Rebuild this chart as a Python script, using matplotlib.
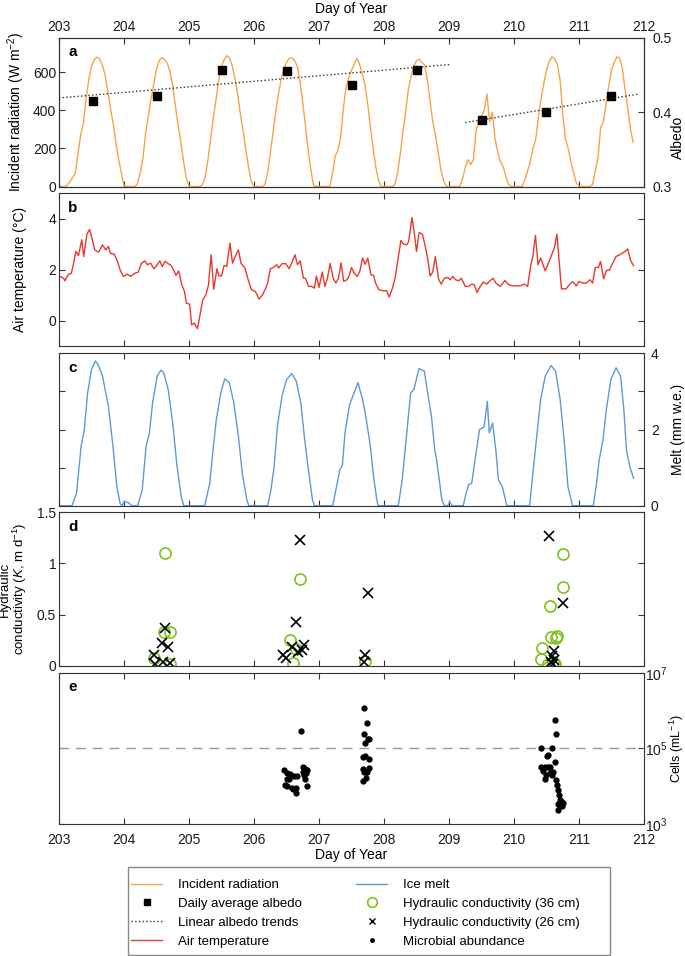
import numpy as np
import matplotlib.pyplot as plt
from matplotlib.lines import Line2D
from matplotlib.patches import Rectangle
from matplotlib.ticker import FormatStrFormatter, NullFormatter

plt.rcParams['font.family'] = ['Liberation Sans', 'DejaVu Sans']
plt.rcParams['font.size'] = 10
plt.rcParams['mathtext.fontset'] = 'custom'
plt.rcParams['mathtext.rm'] = 'Liberation Sans'
plt.rcParams['mathtext.it'] = 'Liberation Sans:italic'
plt.rcParams['mathtext.default'] = 'regular'

# colours
c_rad = '#F5A54A'
c_temp = '#E8392F'
c_melt = '#5B9BD5'
c_green = '#7DC21E'

day_ticks = list(range(203, 213))

# hourly incident radiation (W m-2), first value at day 203.0
radiation = [
    0, 0, 0, 5, 25, 45, 70, 170, 270, 330, 460, 560, 630, 665, 678, 668, 635, 585, 500, 410, 330, 230, 145, 70,
    5, 0, 0, 0, 0, 15, 73, 150, 280, 370, 460, 540, 616, 660, 676, 665, 645, 600, 525, 420, 320, 230, 130, 45,
    0, 0, 0, 0, 0, 10, 50, 140, 250, 360, 460, 560, 630, 665, 685, 672, 630, 565, 480, 375, 290, 190, 100, 25,
    0, 0, 0, 0, 10, 70, 170, 280, 390, 480, 560, 615, 650, 672, 676, 660, 630, 550, 440, 320, 190, 85, 5, 0,
    0, 0, 0, 0, 0, 70, 160, 190, 260, 410, 520, 570, 610, 640, 672, 640, 590, 530, 430, 310, 200, 100, 30, 0,
    0, 0, 0, 0, 10, 70, 170, 290, 390, 510, 580, 630, 660, 668, 650, 635, 560, 450, 340, 270, 180, 90, 30, 0,
    0, 0, 0, 0, 0, 40, 100, 140, 115, 140, 290, 350, 370, 400, 485, 340, 390, 250, 180, 130, 105, 50, 10, 0,
    0, 0, 0, 0, 35, 80, 130, 200, 245, 360, 460, 540, 610, 655, 680, 670, 640, 560, 380, 250, 200, 130, 70, 20,
    0, 0, 0, 0, 0, 10, 80, 150, 310, 340, 430, 530, 610, 650, 680, 672, 620, 510, 410, 300, 230,
]

albedo_day = [203.52, 204.51, 205.51, 206.51, 207.50, 208.50, 209.50, 210.49, 211.49]
albedo = [0.415, 0.422, 0.457, 0.455, 0.437, 0.457, 0.390, 0.400, 0.421]
trend1_day = [203.0, 209.02]
trend1 = [0.419, 0.464]
trend2_day = [209.25, 211.9]
trend2 = [0.386, 0.424]

temp_day = [
    203.015, 203.07, 203.09, 203.14, 203.19, 203.22, 203.26, 203.30, 203.35, 203.38, 203.43, 203.47,
    203.50, 203.55, 203.61, 203.67, 203.72, 203.76, 203.79, 203.85, 203.90, 203.94, 203.99, 204.05,
    204.10, 204.17, 204.22, 204.27, 204.32, 204.36, 204.41, 204.46, 204.50, 204.55, 204.59, 204.63,
    204.68, 204.73, 204.80, 204.84, 204.89, 204.93, 204.96, 205.01, 205.04, 205.08, 205.13, 205.17,
    205.21, 205.26, 205.30, 205.34, 205.38, 205.43, 205.46, 205.50, 205.54, 205.58, 205.63, 205.67,
    205.71, 205.76, 205.80, 205.86, 205.91, 205.96, 206.02, 206.08, 206.13, 206.17, 206.21, 206.25,
    206.30, 206.35, 206.38, 206.43, 206.49, 206.54, 206.59, 206.63, 206.67, 206.71, 206.76, 206.79,
    206.84, 206.89, 206.93, 206.96, 207.00, 207.05, 207.09, 207.13, 207.17, 207.22, 207.26, 207.30,
    207.34, 207.38, 207.43, 207.46, 207.50, 207.54, 207.59, 207.63, 207.67, 207.71, 207.75, 207.80,
    207.84, 207.87, 207.92, 207.99, 208.04, 208.08, 208.13, 208.17, 208.21, 208.26, 208.30, 208.35,
    208.38, 208.43, 208.46, 208.50, 208.54, 208.59, 208.63, 208.67, 208.71, 208.75, 208.79, 208.84,
    208.88, 208.93, 208.98, 209.02, 209.06, 209.10, 209.15, 209.19, 209.25, 209.30, 209.35, 209.39,
    209.43, 209.48, 209.53, 209.58, 209.63, 209.68, 209.72, 209.79, 209.86, 209.92, 209.99, 210.09,
    210.16, 210.21, 210.26, 210.29, 210.33, 210.37, 210.41, 210.48, 210.55, 210.62, 210.66, 210.73,
    210.80, 210.86, 210.90, 210.96, 211.00, 211.06, 211.11, 211.17, 211.21, 211.25, 211.30, 211.33,
    211.38, 211.42, 211.47, 211.52, 211.57, 211.64, 211.71, 211.75, 211.79, 211.84,
]
temp_c = [
    1.74, 1.67, 1.57, 1.80, 1.87, 2.20, 2.72, 2.56, 3.18, 2.52, 3.40, 3.58,
    3.31, 2.78, 2.69, 2.98, 2.78, 2.92, 2.65, 2.61, 2.33, 2.00, 1.74, 1.83,
    1.74, 1.87, 1.91, 2.26, 2.35, 2.20, 2.26, 2.04, 2.16, 2.35, 2.13, 2.33,
    2.24, 2.16, 1.78, 1.96, 1.41, 1.15, 0.69, 0.65, -0.16, -0.09, -0.31, 0.24,
    0.82, 1.02, 1.41, 2.59, 1.24, 2.04, 1.76, 1.76, 2.17, 2.13, 3.05, 2.26,
    2.52, 2.78, 2.26, 2.07, 1.61, 1.22, 1.15, 0.85, 1.02, 1.22, 1.48, 2.04,
    2.09, 2.20, 2.07, 2.24, 2.24, 2.04, 2.33, 2.59, 2.20, 2.35, 1.67, 1.67,
    1.35, 1.35, 1.28, 1.76, 1.31, 1.91, 1.35, 1.67, 2.25, 1.65, 1.48, 1.67,
    2.27, 1.54, 1.61, 1.74, 2.09, 1.87, 1.74, 1.96, 2.46, 2.22, 2.46, 1.80,
    1.78, 1.48, 1.22, 1.18, 1.18, 0.93, 1.28, 1.67, 2.33, 3.15, 3.01, 2.98,
    3.11, 4.05, 3.57, 2.72, 3.46, 3.40, 2.98, 2.46, 1.76, 1.91, 2.52, 1.63,
    1.44, 1.67, 1.70, 1.61, 1.74, 1.61, 1.57, 1.67, 1.35, 1.35, 1.44, 1.41,
    1.11, 1.35, 1.52, 1.44, 1.57, 1.67, 1.48, 1.35, 1.58, 1.41, 1.37, 1.37,
    1.44, 1.35, 2.20, 2.52, 3.35, 2.20, 2.46, 1.96, 2.39, 2.85, 3.40, 1.25,
    1.25, 1.44, 1.54, 1.37, 1.54, 1.48, 1.48, 1.61, 1.48, 2.09, 2.09, 2.33,
    1.65, 1.96, 2.00, 2.26, 2.52, 2.61, 2.72, 2.82, 2.39, 2.16,
]

melt_day = [
    203.0, 203.20, 203.27, 203.34, 203.39, 203.44, 203.50, 203.56, 203.60, 203.67, 203.76, 203.83,
    203.89, 203.94, 203.97, 204.0, 204.07, 204.12, 204.21,
    204.28, 204.34, 204.39, 204.44, 204.51, 204.57, 204.61, 204.68, 204.75, 204.81, 204.88, 204.92, 205.24,
    205.32, 205.37, 205.42, 205.49, 205.55, 205.62, 205.69, 205.76, 205.82, 205.89, 205.92, 206.21,
    206.26, 206.31, 206.36, 206.43, 206.50, 206.58, 206.65, 206.72, 206.78, 206.83, 206.90, 206.93, 207.21,
    207.27, 207.32, 207.36, 207.40, 207.47, 207.52, 207.60, 207.67, 207.72, 207.79, 207.84, 207.89, 207.91, 208.22,
    208.28, 208.34, 208.41, 208.46, 208.51, 208.54, 208.62, 208.68, 208.73, 208.78, 208.81, 208.85, 208.89,
    208.93, 208.98, 209.01, 209.05, 209.22,
    209.25, 209.30, 209.35, 209.40, 209.47, 209.54, 209.59, 209.62, 209.67, 209.72, 209.76, 209.82, 209.89, 210.24,
    210.29, 210.35, 210.41, 210.48, 210.57, 210.64, 210.71, 210.78, 210.83, 210.90, 211.22,
    211.27, 211.31, 211.37, 211.42, 211.49, 211.57, 211.64, 211.69, 211.73, 211.78, 211.84,
]
melt = [
    0, 0, 0.33, 1.56, 2.0, 2.96, 3.58, 3.8, 3.71, 3.4, 2.61, 1.56,
    0.5, 0.06, 0, 0.1, 0.08, 0, 0,
    0.41, 1.56, 1.9, 2.7, 3.4, 3.56, 3.49, 3.05, 2.17, 1.12, 0.24, 0, 0,
    0.59, 1.47, 2.26, 2.96, 3.33, 3.23, 2.7, 1.82, 0.85, 0.15, 0, 0,
    0.41, 1.03, 2.08, 2.87, 3.31, 3.47, 3.27, 2.7, 1.73, 1.03, 0.15, 0, 0,
    0.5, 0.94, 1.07, 1.91, 2.65, 2.87, 3.23, 2.79, 2.35, 1.56, 0.76, 0.15, 0, 0,
    0.68, 1.73, 2.96, 3.05, 3.4, 3.6, 3.53, 2.87, 2.35, 1.47, 1.2, 0.68, 0.15,
    0, 0, 0.1, 0, 0,
    0.24, 0.55, 0.59, 1.2, 2.0, 2.07, 2.74, 1.91, 2.17, 1.47, 0.68, 0.5, 0, 0,
    0.85, 1.82, 2.79, 3.4, 3.68, 3.53, 2.79, 1.56, 0.5, 0, 0,
    0.59, 1.2, 1.73, 2.52, 3.31, 3.62, 3.4, 2.52, 1.47, 1.03, 0.72,
]

# hydraulic conductivity (m d-1)
k36_day = [204.63, 204.62, 204.70, 204.46, 204.71,
           206.71, 206.55, 206.65, 206.60,
           207.70,
           210.76, 210.75, 210.56, 210.57, 210.64, 210.66, 210.43, 210.41, 210.53, 210.63, 210.60]
k36 = [1.10, 0.33, 0.33, 0.08, 0.02,
       0.85, 0.25, 0.16, 0.03,
       0.05,
       1.09, 0.77, 0.58, 0.28, 0.27, 0.29, 0.17, 0.07, 0.02, 0.02, 0.04]
k26_day = [204.63, 204.58, 204.68, 204.46, 204.48, 204.60, 204.70,
           206.71, 206.64, 206.45, 206.49, 206.58, 206.68, 206.77, 206.74,
           207.76, 207.70, 207.69,
           210.54, 210.76, 210.62, 210.58, 210.61, 210.57, 210.60]
k26 = [0.37, 0.22, 0.18, 0.10, 0.02, 0.04, 0.03,
       1.23, 0.43, 0.10, 0.08, 0.18, 0.13, 0.20, 0.15,
       0.71, 0.10, 0.04,
       1.27, 0.61, 0.14, 0.09, 0.06, 0.04, 0.02]

# microbial abundance (cells mL-1)
cells_day = [206.72, 206.46, 206.51, 206.56, 206.61, 206.66, 206.50, 206.54, 206.47, 206.51, 206.58,
             206.60, 206.64, 206.64, 206.76, 206.78, 206.81, 206.76, 206.80, 206.77, 206.78, 206.82,
             207.69, 207.74, 207.69, 207.70, 207.75, 207.77, 207.70, 207.68, 207.77, 207.67, 207.69,
             207.72, 207.74, 207.77, 207.72, 207.68,
             210.41, 210.59, 210.63, 210.64, 210.51, 210.53, 210.63, 210.42, 210.47, 210.52, 210.56,
             210.45, 210.56, 210.60, 210.49, 210.59, 210.48, 210.64, 210.66, 210.68, 210.69, 210.70,
             210.68, 210.72, 210.75, 210.71, 210.74, 210.68]
cells = [2.95e5, 2.7e4, 2.3e4, 2.1e4, 1.9e4, 1.9e4, 1.6e4, 1.6e4, 1.1e4, 1.05e4, 9.3e3,
         8.5e3, 8.9e3, 6.6e3, 3.2e4, 2.8e4, 2.7e4, 2.45e4, 2.2e4, 2.0e4, 1.55e4, 1.05e4,
         1.15e6, 4.6e5, 2.4e5, 1.4e5, 1.75e5, 1.75e5, 6.3e4, 5.9e4, 5.2e4, 2.8e4, 2.45e4,
         2.35e4, 2.35e4, 3.0e4, 1.7e4, 1.4e4,
         1.0e5, 1.0e5, 5.6e5, 2.4e5, 6.5e4, 6.8e4, 4.5e4, 3.3e4, 3.3e4, 3.2e4, 3.3e4,
         2.6e4, 2.3e4, 2.45e4, 2.0e4, 2.0e4, 1.6e4, 1.5e4, 1.1e4, 7.8e3, 5.9e3, 4.4e3,
         3.5e3, 4.0e3, 3.7e3, 3.0e3, 2.95e3, 2.4e3]
cell_threshold = 1e5

rad_day = 203 + np.arange(len(radiation)) / 24.0

fig = plt.figure(figsize=(6.85, 9.56), dpi=100)
W, H = 685.0, 956.0
left, width = 59 / W, 585 / W


def panel(top_px, bottom_px):
    return fig.add_axes([left, 1 - bottom_px / H, width, (bottom_px - top_px) / H])


def style(ax):
    for s in ax.spines.values():
        s.set_color('#333333')
        s.set_linewidth(0.8)
    ax.set_xlim(203, 212)
    ax.set_xticks(day_ticks)
    ax.tick_params(direction='in', length=4, width=0.8, colors='#333333',
                   labelcolor='#1a1a1a', top=True, bottom=True)


ax_a = panel(37.7, 186.5)
ax_b = panel(193.3, 346.3)
ax_c = panel(353.3, 505.7)
ax_d = panel(512.3, 665.7)
ax_e = panel(672.7, 824.3)

lab_left = -0.055
lab_right = 1.046

# a: radiation + albedo
style(ax_a)
ax_a.plot(rad_day, radiation, color=c_rad, lw=1)
ax_a.set_ylim(0, 780)
ax_a.set_yticks([0, 200, 400, 600])
ax_a.tick_params(axis='x', labeltop=True, labelbottom=False, pad=3)
ax_a.tick_params(axis='y', left=True, right=False, pad=2)
ax_a.xaxis.set_label_position('top')
ax_a.set_xlabel('Day of Year', labelpad=5)
ax_a.set_ylabel('Incident radiation (W m$^{-2}$)')
ax_a.yaxis.set_label_coords(lab_left, 0.5)
ax_a2 = ax_a.twinx()
style(ax_a2)
ax_a2.tick_params(axis='x', labeltop=False, labelbottom=False)
ax_a2.plot(albedo_day, albedo, 's', color='black', ms=5.5)
ax_a2.plot(trend1_day, trend1, ':', color='#333333', lw=1)
ax_a2.plot(trend2_day, trend2, ':', color='#333333', lw=1)
ax_a2.set_ylim(0.3, 0.5)
ax_a2.set_yticks([0.3, 0.4, 0.5])
ax_a2.tick_params(axis='y', left=False, right=True, pad=6)
ax_a2.set_ylabel('Albedo')
ax_a2.yaxis.set_label_coords(lab_right, 0.33)

# b: air temperature
style(ax_b)
ax_b.plot(temp_day, temp_c, color=c_temp, lw=1)
ax_b.set_ylim(-1, 5)
ax_b.set_yticks([0, 2, 4])
ax_b.tick_params(axis='x', labelbottom=False)
ax_b.tick_params(axis='y', right=True, pad=2)
ax_b.set_ylabel('Air temperature (°C)')
ax_b.yaxis.set_label_coords(lab_left, 0.5)

# c: melt
style(ax_c)
ax_c.plot(melt_day, melt, color=c_melt, lw=1)
ax_c.set_ylim(0, 4)
ax_c.set_yticks([0, 1, 2, 3, 4])
ax_c.set_yticklabels(['0', '', '2', '', '4'])
ax_c.tick_params(axis='x', labelbottom=False)
ax_c.tick_params(axis='y', left=True, right=True, labelleft=False, labelright=True, pad=5)
ax_c.yaxis.set_label_position('right')
ax_c.set_ylabel('Melt (mm w.e.)')
ax_c.yaxis.set_label_coords(lab_right, 0.5)

# d: hydraulic conductivity
style(ax_d)
ax_d.plot(k36_day, k36, 'o', mfc='none', mec=c_green, mew=1.2, ms=8)
ax_d.plot(k26_day, k26, 'x', color='black', mew=1.2, ms=6.5)
ax_d.set_ylim(0, 1.5)
ax_d.set_yticks([0, 0.5, 1, 1.5])
ax_d.yaxis.set_major_formatter(FormatStrFormatter('%g'))
ax_d.tick_params(axis='x', labelbottom=False)
ax_d.tick_params(axis='y', right=True, pad=2)
ax_d.set_ylabel('Hydraulic\nconductivity ($\\it{K}$, m d$^{-1}$)', fontsize=9.5, linespacing=0.95)
ax_d.yaxis.set_label_coords(-0.052, 0.5)

# e: microbial abundance
style(ax_e)
ax_e.set_yscale('log')
ax_e.axhline(cell_threshold, color='#999999', lw=1, dashes=(7, 5))
ax_e.plot(cells_day, cells, 'o', color='black', ms=3.5)
ax_e.set_ylim(1e3, 1e7)
ax_e.set_yticks([1e3, 1e5, 1e7])
ax_e.yaxis.set_minor_formatter(NullFormatter())
ax_e.tick_params(axis='y', which='minor', left=False, right=False)
ax_e.tick_params(axis='y', left=True, right=True, labelleft=False, labelright=True, pad=1)
ax_e.tick_params(axis='x', pad=6)
ax_e.yaxis.set_label_position('right')
ax_e.set_ylabel('Cells (mL$^{-1}$)', fontsize=9)
ax_e.yaxis.set_label_coords(1.04, 0.5)
ax_e.set_xlabel('Day of Year', labelpad=1)

for ax, lab in zip([ax_a, ax_b, ax_c, ax_d, ax_e], 'abcde'):
    ax.text(0.016, 0.95, lab, transform=ax.transAxes, fontsize=11, fontweight='bold',
            va='top', ha='left')

handles = [
    Line2D([], [], color=c_rad, lw=1),
    Line2D([], [], ls='none', marker='s', color='black', ms=4),
    Line2D([], [], color='#333333', ls=':', lw=1),
    Line2D([], [], color=c_temp, lw=1),
    Line2D([], [], color=c_melt, lw=1),
    Line2D([], [], ls='none', marker='o', mfc='none', mec=c_green, mew=1.2, ms=7),
    Line2D([], [], ls='none', marker='x', color='black', mew=1, ms=5),
    Line2D([], [], ls='none', marker='o', color='black', ms=2.5),
]
labels = ['Incident radiation', 'Daily average albedo', 'Linear albedo trends', 'Air temperature',
          'Ice melt', 'Hydraulic conductivity (36 cm)', 'Hydraulic conductivity (26 cm)',
          'Microbial abundance']
fig.legend(handles, labels, ncol=2, loc='upper left',
           bbox_to_anchor=(131 / W, 1 - 879 / H), frameon=False,
           fontsize=9.5, handlelength=2.35, handletextpad=1.2,
           columnspacing=4.15, labelspacing=0.5, borderpad=0, borderaxespad=0)
# legend frame
fig.add_artist(Rectangle((128 / W, 1 - 955 / H), 482 / W, 88 / H, transform=fig.transFigure,
                         fill=False, edgecolor='#888888', lw=1))

fig.savefig('out.png', dpi=100)
